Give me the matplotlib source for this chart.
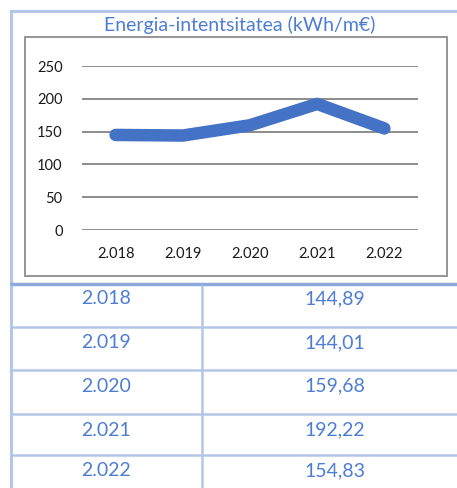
import matplotlib.pyplot as plt
from matplotlib.lines import Line2D

plt.rcParams['font.family'] = ['Lato', 'DejaVu Sans']

years = ['2.018', '2.019', '2.020', '2.021', '2.022']
values = [144.89, 144.01, 159.68, 192.22, 154.83]
yticks = [0, 50, 100, 150, 200, 250]
title = 'Energia-intentsitatea (kWh/m€)'

W, H = 457, 488
txt_blue = '#4e7dd4'
thin = '#b4c6e7'

fig = plt.figure(figsize=(W / 100, H / 100), dpi=100)

# overlay in pixel coordinates for borders, title and table
bg = fig.add_axes([0, 0, 1, 1])
bg.set_xlim(0, W)
bg.set_ylim(H, 0)
bg.axis('off')

def hline(y, x0, x1, c, lw):
    bg.add_line(Line2D([x0, x1], [y, y], color=c, lw=lw, solid_capstyle='butt'))

def vline(x, y0, y1, c, lw):
    bg.add_line(Line2D([x, x], [y0, y1], color=c, lw=lw, solid_capstyle='butt'))

# outer frame
hline(10.5, 10, W, thin, 2.2)
vline(10.5, 10, H, thin, 2.2)
bg.text(240, 25, title, ha='center', va='center', fontsize=14, color=txt_blue)

# chart box
bg.add_patch(plt.Rectangle((25, 37), 422, 239, fill=False, ec='#8c8c8c', lw=1.3))

# table
row_tops = [283, 327, 370, 414, 455]
hline(283.5, 10, W, '#8eaadb', 2.5)
for y in row_tops[1:]:
    hline(y, 10, W, thin, 1.8)
vline(202, 285, H, thin, 1.8)
for i, (yr, v) in enumerate(zip(years, values)):
    ty = row_tops[i] + 16
    bg.text(106, ty, yr, ha='center', va='center', fontsize=14, color=txt_blue)
    bg.text(335, ty, f'{v:.2f}'.replace('.', ','), ha='center', va='center',
            fontsize=14, color=txt_blue)

# line chart
ax = fig.add_axes([82 / W, (H - 230) / H, 336 / W, 164 / H])
x = list(range(len(years)))
ax.plot(x, values, color='#4472c4', lw=9, solid_capstyle='round',
        solid_joinstyle='round', clip_on=False, zorder=3)
ax.set_xlim(-0.5, len(years) - 0.5)
ax.set_ylim(0, 250)
ax.set_yticks(yticks)
ax.set_xticks(x)
ax.set_xticklabels(years)
ax.yaxis.grid(True, color='#8c8c8c', lw=1.4)
ax.set_axisbelow(True)
for s in ax.spines.values():
    s.set_visible(False)
ax.tick_params(length=0, labelsize=10.5, colors='#1a1a1a')
ax.tick_params(axis='y', pad=14)
ax.tick_params(axis='x', pad=12)
ax.patch.set_alpha(0)

fig.savefig('out.png', dpi=100)
